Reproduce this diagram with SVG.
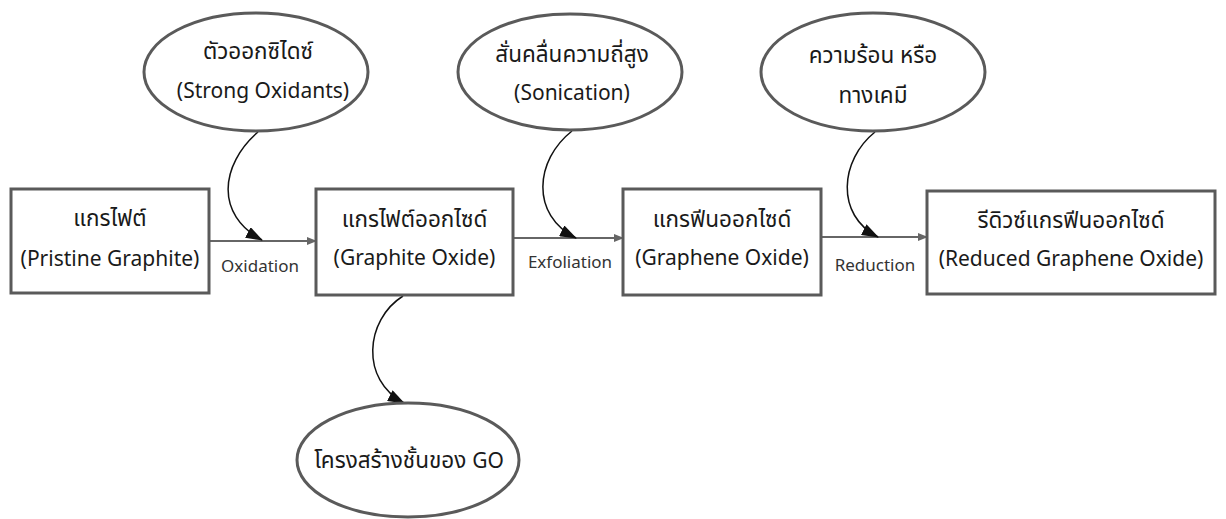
<svg xmlns="http://www.w3.org/2000/svg" width="1226" height="519" viewBox="0 0 1226 519">
<style>
  .box { fill: #ffffff; stroke: #5a5a5a; stroke-width: 3; }
  .ell { fill: #ffffff; stroke: #5a5a5a; stroke-width: 3; }
  .t { font-family: "Noto Sans", "Noto Sans Thai", "Leelawadee UI", sans-serif; font-size: 21px; fill: #1a1a1a; text-anchor: middle; }
  .th { font-family: "Noto Sans", "Noto Sans Thai", "Leelawadee UI", sans-serif; font-size: 22.5px; fill: #1a1a1a; text-anchor: middle; }
  .en { font-size: 21px; }
  .lbl { font-family: "Noto Sans", "Noto Sans Thai", sans-serif; font-size: 17px; fill: #333333; text-anchor: middle; }
  .flow { fill: none; stroke: #666666; stroke-width: 2; marker-end: url(#grayArrow); }
  .curve { fill: none; stroke: #111111; stroke-width: 1.5; marker-end: url(#blackArrow); }
</style>
<defs>
  <marker id="grayArrow" markerWidth="10" markerHeight="8" refX="9" refY="4" orient="auto" markerUnits="userSpaceOnUse">
    <path d="M0,0 L10,4 L0,8 Z" fill="#666666"/>
  </marker>
  <marker id="blackArrow" markerWidth="17" markerHeight="12" refX="16" refY="6" orient="auto" markerUnits="userSpaceOnUse">
    <path d="M0,0 L17,6 L0,12 Z" fill="#111111"/>
  </marker>
</defs>
<rect width="1226" height="519" fill="#ffffff"/>

<g id="connectors">
  <line class="flow" x1="209" y1="241" x2="316" y2="241"/>
  <line class="flow" x1="513" y1="238" x2="623" y2="238"/>
  <line class="flow" x1="821" y1="237" x2="927" y2="237"/>
  <path class="curve" d="M258,132 C220,165 215,215 262,240"/>
  <path class="curve" d="M572,131 C535,160 530,215 576,238"/>
  <path class="curve" d="M875,132 C840,160 835,215 878,237"/>
  <path class="curve" d="M403,296 C365,320 360,380 404,403"/>
  <text class="lbl" x="260" y="272">Oxidation</text>
  <text class="lbl" x="570" y="268">Exfoliation</text>
  <text class="lbl" x="875" y="271">Reduction</text>
</g>

<g id="n-graphite">
  <rect class="box" x="11" y="189" width="198" height="104"/>
  <text class="th" x="110" y="226">แกรไฟต์</text>
  <text class="t" x="110" y="266">(Pristine Graphite)</text>
</g>
<g id="n-graphite-oxide">
  <rect class="box" x="316" y="189" width="197" height="106"/>
  <text class="th" x="414.5" y="227">แกรไฟต์ออกไซด์</text>
  <text class="t" x="414.5" y="265">(Graphite Oxide)</text>
</g>
<g id="n-graphene-oxide">
  <rect class="box" x="623" y="189" width="198" height="106"/>
  <text class="th" x="722" y="227">แกรฟีนออกไซด์</text>
  <text class="t" x="722" y="265">(Graphene Oxide)</text>
</g>
<g id="n-rgo">
  <rect class="box" x="927" y="191" width="288" height="103"/>
  <text class="th" x="1071" y="228">รีดิวซ์แกรฟีนออกไซด์</text>
  <text class="t" x="1071" y="266">(Reduced Graphene Oxide)</text>
</g>

<g id="n-oxidants">
  <ellipse class="ell" cx="256" cy="72" rx="112" ry="59"/>
  <text class="th" x="258" y="59">ตัวออกซิไดซ์</text>
  <text class="t" x="263" y="98">(Strong Oxidants)</text>
</g>
<g id="n-sonication">
  <ellipse class="ell" cx="570" cy="72" rx="112" ry="58"/>
  <text class="th" x="572" y="62">สั่นคลื่นความถี่สูง</text>
  <text class="t" x="572" y="100">(Sonication)</text>
</g>
<g id="n-heat">
  <ellipse class="ell" cx="873" cy="72" rx="112" ry="59"/>
  <text class="th" x="873" y="63">ความร้อน หรือ</text>
  <text class="th" x="873" y="103">ทางเคมี</text>
</g>
<g id="n-layers">
  <ellipse class="ell" cx="408" cy="460" rx="111" ry="57"/>
  <text class="th" x="409" y="468">โครงสร้างชั้นของ <tspan class="en">GO</tspan></text>
</g>
</svg>
